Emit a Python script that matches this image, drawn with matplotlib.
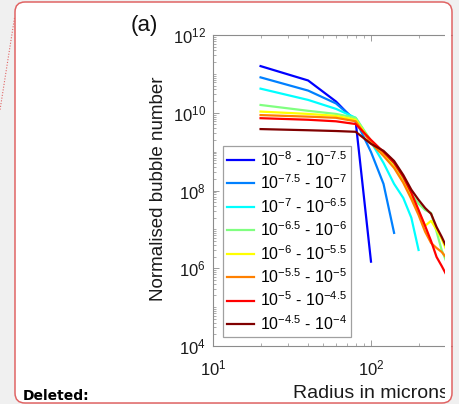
import numpy as np
import matplotlib
matplotlib.use('Agg')
import matplotlib.pyplot as plt
from matplotlib.patches import FancyBboxPatch, Rectangle
from matplotlib.lines import Line2D
from matplotlib.ticker import LogLocator, FuncFormatter, NullFormatter

plt.rcParams['font.family'] = ['Liberation Sans', 'DejaVu Sans']
plt.rcParams['mathtext.fontset'] = 'custom'
plt.rcParams['mathtext.rm'] = 'Liberation Sans'
plt.rcParams['mathtext.it'] = 'Liberation Sans:italic'
plt.rcParams['mathtext.bf'] = 'Liberation Sans:bold'

# ---------------- data (log10 of normalised bubble number) ----------------
radius = [20, 40, 60, 80, 100, 120, 140, 160, 180, 200, 220, 240, 260, 280, 300]

s1_log10 = [11.20, 10.83, 10.29, 9.77, 6.17]
s2_log10 = [10.91, 10.57, 10.24, 9.81, 8.99, 8.17, 6.91]
s3_log10 = [10.62, 10.33, 10.10, 9.87, 9.25, 8.71, 8.17, 7.81, 7.30, 6.47]
s4_log10 = [10.20, 10.05, 9.97, 9.87, 9.28, 8.97, 8.66, 8.27, 7.91, 7.66, 7.50, 7.42, 6.94, 6.47, 6.17]
s5_log10 = [10.03, 9.97, 9.92, 9.82, 9.25, 8.92, 8.61, 8.22, 7.84, 7.45, 7.09, 7.22, 6.99, 6.76, 6.47]
s6_log10 = [9.94, 9.90, 9.87, 9.78, 9.22, 8.89, 8.58, 8.20, 7.78, 7.37, 6.94, 6.65, 6.52, 6.42, 6.27]
s7_log10 = [9.86, 9.82, 9.78, 9.71, 9.30, 8.99, 8.71, 8.35, 7.94, 7.50, 7.09, 6.70, 6.29, 6.06, 5.83]
s8_log10 = [9.58, 9.55, 9.53, 9.51, 9.20, 9.02, 8.76, 8.40, 8.02, 7.76, 7.55, 7.40, 7.06, 6.81, 6.55]

series = [s1_log10, s2_log10, s3_log10, s4_log10, s5_log10, s6_log10, s7_log10, s8_log10]
labels = [r'$10^{-8}$ - $10^{-7.5}$', r'$10^{-7.5}$ - $10^{-7}$', r'$10^{-7}$ - $10^{-6.5}$',
          r'$10^{-6.5}$ - $10^{-6}$', r'$10^{-6}$ - $10^{-5.5}$', r'$10^{-5.5}$ - $10^{-5}$',
          r'$10^{-5}$ - $10^{-4.5}$', r'$10^{-4.5}$ - $10^{-4}$']
colors = ['#0000ff', '#0080ff', '#00ffff', '#80ff80', '#ffff00', '#ff8000', '#ff0000', '#800000']

# ---------------- figure ----------------
W, H = 459, 404
BG = '#f0f0f0'
RED = '#e06464'
fig = plt.figure(figsize=(W / 100, H / 100), dpi=100, facecolor=BG)
tin = fig.dpi_scale_trans


def px(x, y):
    return (x / 100.0, (H - y) / 100.0)


# document box (white fill, behind the axes)
x0, y0 = px(15, 403)
box_w, box_h = (452 - 15) / 100.0, (403 - 2) / 100.0
fig.patches.append(FancyBboxPatch((x0, y0), box_w, box_h,
                                  boxstyle='round,pad=0,rounding_size=0.1',
                                  transform=tin, facecolor='white', edgecolor='none', zorder=-5))
# dotted connector line
p1, p2 = px(14.5, 18), px(0, 110)
fig.lines.append(Line2D([p1[0], p2[0]], [p1[1], p2[1]], transform=tin, color=RED,
                        lw=0.8, ls=(0, (1, 1.5)), zorder=-4))

ax = fig.add_axes([213 / W, (H - 346) / H, 316 / W, 311 / H])
ax.set_facecolor('none')
for vals, c, lab in zip(series, colors, labels):
    ax.plot(radius[:len(vals)], 10 ** np.array(vals), color=c, lw=1.6, label=lab)

ax.set_xscale('log')
ax.set_yscale('log')
ax.set_xlim(10, 1000)
ax.set_ylim(1e4, 1e12)

fmt = FuncFormatter(lambda v, _: r'$10^{%d}$' % int(round(np.log10(v))))
ax.xaxis.set_major_locator(LogLocator(base=10))
ax.yaxis.set_major_locator(LogLocator(base=100))
ax.xaxis.set_major_formatter(fmt)
ax.yaxis.set_major_formatter(fmt)
ax.xaxis.set_minor_locator(LogLocator(base=10, subs=np.arange(2, 10)))
ax.yaxis.set_minor_locator(LogLocator(base=10, subs=np.arange(1, 10), numticks=30))
ax.xaxis.set_minor_formatter(NullFormatter())
ax.yaxis.set_minor_formatter(NullFormatter())

GR = '#8c8c8c'
for s in ax.spines.values():
    s.set_color(GR)
    s.set_linewidth(0.8)
ax.spines['right'].set_visible(False)
ax.tick_params(which='both', direction='in', top=True, right=False, color=GR, labelsize=12,
               labelcolor='#1a1a1a')
ax.tick_params(which='major', length=4, width=0.6)
ax.tick_params(which='minor', length=2.2, width=0.5)
ax.tick_params(axis='y', pad=5)
ax.tick_params(axis='x', pad=9)

ax.set_xlabel('Radius in microns', fontsize=14, color='#1a1a1a')
ax.set_ylabel('Normalised bubble number', fontsize=13.5, color='#1a1a1a')
ax.xaxis.set_label_coords(0.5, -0.125)
ax.yaxis.set_label_coords(-0.146, 0.505)

leg = ax.legend(loc='lower left', bbox_to_anchor=(0.032, 0.029), borderaxespad=0,
                fontsize=11.5, frameon=True, fancybox=False, framealpha=1,
                edgecolor='#a0a0a0', handlelength=1.7, handletextpad=0.35,
                labelspacing=0.30, borderpad=0.25)
leg.get_frame().set_linewidth(0.9)

fig.text(131 / W, 1 - 25 / H, '(a)', fontsize=16, ha='left', va='center', color='#111111')
fig.text(23 / W, 1 - 396 / H, 'Deleted:', fontsize=10, fontweight='bold', family='DejaVu Sans',
         ha='left', va='center', color='black')

# masks: the chart is cut off at the right by the document box
fig.patches.append(Rectangle(px(444.5, 399), (451 - 444.5) / 100, (399 - 12) / 100,
                             transform=tin, facecolor='white', edgecolor='none', zorder=10))
fig.patches.append(Rectangle(px(452.5, 404), (W - 452.5) / 100, H / 100,
                             transform=tin, facecolor=BG, edgecolor='none', zorder=10))
fig.patches.append(FancyBboxPatch((x0, y0), box_w, box_h,
                                  boxstyle='round,pad=0,rounding_size=0.1',
                                  transform=tin, facecolor='none', edgecolor=RED, lw=1.1, zorder=11))

fig.savefig('out.png', dpi=100, facecolor=BG)
